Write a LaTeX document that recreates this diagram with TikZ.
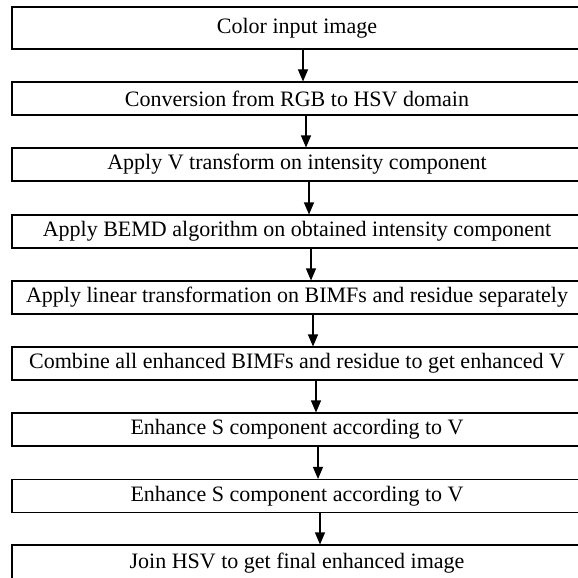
\documentclass[tikz,border=0pt]{standalone}
\usepackage{fontspec}
\setmainfont{Liberation Serif}
\usetikzlibrary{arrows.meta}
\begin{document}
\begin{tikzpicture}[x=1pt,y=-1pt,
  stepbox/.style={draw, line width=1.1pt, rectangle, minimum width=570pt,
    minimum height=33pt, inner sep=0pt, font=\fontsize{22}{26}\selectfont},
  flow/.style={line width=1.1pt, -{Triangle[length=12pt,width=10pt]}}]
\useasboundingbox (0,0) rectangle (578,578);
\clip (0,0) rectangle (578,578);
% processing steps
\node[stepbox, minimum height=42pt] (b1) at (297,28) {Color input image};
\node[stepbox] (b2) at (297,98.5) {Conversion from RGB to HSV domain};
\node[stepbox] (b3) at (297,164.5) {Apply V transform on intensity component};
\node[stepbox] (b4) at (297,231.5) {Apply BEMD algorithm on obtained intensity component};
\node[stepbox] (b5) at (297,297.5) {Apply linear transformation on BIMFs and residue separately};
\node[stepbox] (b6) at (297,363.5) {Combine all enhanced BIMFs and residue to get enhanced V};
\node[stepbox] (b7) at (297,429.5) {Enhance S component according to V};
\node[stepbox] (b8) at (297,496) {Enhance S component according to V};
\node[stepbox, minimum height=36pt] (b9) at (297,563) {Join HSV to get final enhanced image};
% connectors
\draw[flow] ([xshift=6pt]b1.south) -- ([xshift=6pt]b2.north);
\draw[flow] ([xshift=9pt]b2.south) -- ([xshift=9pt]b3.north);
\draw[flow] ([xshift=12pt]b3.south) -- ([xshift=12pt]b4.north);
\draw[flow] ([xshift=14pt]b4.south) -- ([xshift=14pt]b5.north);
\draw[flow] ([xshift=16pt]b5.south) -- ([xshift=16pt]b6.north);
\draw[flow] ([xshift=19pt]b6.south) -- ([xshift=19pt]b7.north);
\draw[flow] ([xshift=21pt]b7.south) -- ([xshift=21pt]b8.north);
\draw[flow] ([xshift=23pt]b8.south) -- ([xshift=23pt]b9.north);
\end{tikzpicture}
\end{document}
